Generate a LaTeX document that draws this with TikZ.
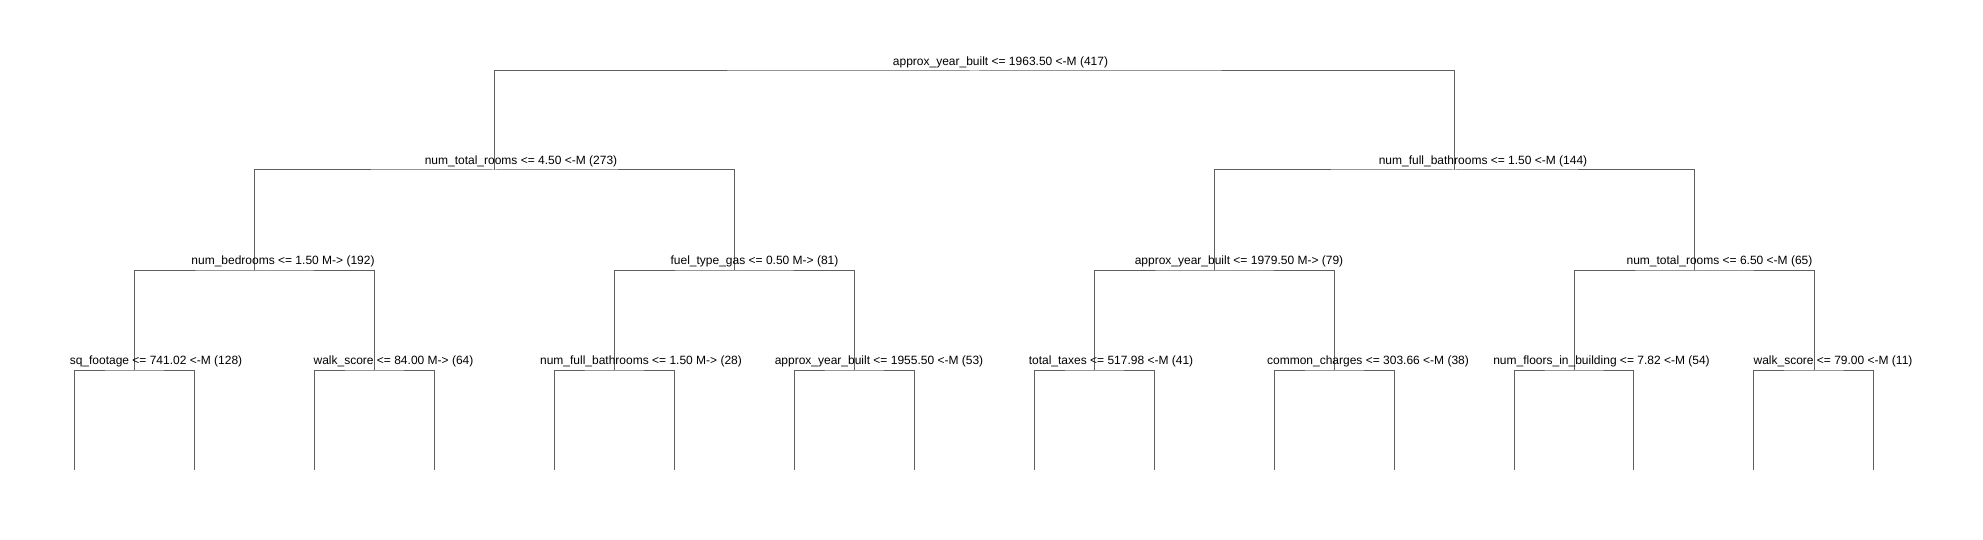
\documentclass[tikz,border=0pt]{standalone}
\usepackage{fontspec}
\setmainfont{Liberation Sans}
\definecolor{edgegray}{RGB}{95,95,95}
\begin{document}
\begin{tikzpicture}[x=1pt,y=-1pt,
  edge/.style={draw=edgegray,line width=1pt},
  lab/.style={anchor=base,inner sep=0pt,font=\fontsize{12}{14}\selectfont}]
\useasboundingbox[fill=white] (0,0) rectangle (1983,540);
% internal node coordinates (bar level)
\coordinate (r) at (974.4,71);
\coordinate (a) at (494.3,170);
\coordinate (b) at (1454.3,170);
\coordinate (aa) at (254.5,270);
\coordinate (ab) at (734.2,270);
\coordinate (ba) at (1214.4,270);
\coordinate (bb) at (1694.3,270);
\coordinate (aaa) at (134.6,370);
\coordinate (aab) at (374.4,370);
\coordinate (aba) at (614.3,370);
\coordinate (abb) at (854.1,370);
\coordinate (baa) at (1094.4,370);
\coordinate (bab) at (1334.4,370);
\coordinate (bba) at (1574.3,370);
\coordinate (bbb) at (1814.2,370);
% leaves
\foreach \i in {0,...,15} {\coordinate (l\i) at ({74.6+119.95*\i},470);}
% edges
\draw[edge] (a) |- (r) -| (b);
\draw[edge] (aa) |- (a) -| (ab);
\draw[edge] (ba) |- (b) -| (bb);
\draw[edge] (aaa) |- (aa) -| (aab);
\draw[edge] (aba) |- (ab) -| (abb);
\draw[edge] (baa) |- (ba) -| (bab);
\draw[edge] (bba) |- (bb) -| (bbb);
\draw[edge] (l0) |- (aaa) -| (l1);
\draw[edge] (l2) |- (aab) -| (l3);
\draw[edge] (l4) |- (aba) -| (l5);
\draw[edge] (l6) |- (abb) -| (l7);
\draw[edge] (l8) |- (baa) -| (l9);
\draw[edge] (l10) |- (bab) -| (l11);
\draw[edge] (l12) |- (bba) -| (l13);
\draw[edge] (l14) |- (bbb) -| (l15);
% labels
\node[lab] (tr) at (1000.5,65.5) {approx\_year\_built <= 1963.50 <-M (417)};
\node[lab] (ta) at (521,164.5) {num\_total\_rooms <= 4.50 <-M (273)};
\node[lab] (tb) at (1483,164.5) {num\_full\_bathrooms <= 1.50 <-M (144)};
\node[lab] (taa) at (283,264.5) {num\_bedrooms <= 1.50 M-> (192)};
\node[lab] (tab) at (754.5,264.5) {fuel\_type\_gas <= 0.50 M-> (81)};
\node[lab] (tba) at (1239,264.5) {approx\_year\_built <= 1979.50 M-> (79)};
\node[lab] (tbb) at (1719.5,264.5) {num\_total\_rooms <= 6.50 <-M (65)};
\node[lab] (taaa) at (156,364.5) {sq\_footage <= 741.02 <-M (128)};
\node[lab] (taab) at (393.5,364.5) {walk\_score <= 84.00 M-> (64)};
\node[lab] (taba) at (641,364.5) {num\_full\_bathrooms <= 1.50 M-> (28)};
\node[lab] (tabb) at (879,364.5) {approx\_year\_built <= 1955.50 <-M (53)};
\node[lab] (tbaa) at (1111,364.5) {total\_taxes <= 517.98 <-M (41)};
\node[lab] (tbab) at (1368,364.5) {common\_charges <= 303.66 <-M (38)};
\node[lab] (tbba) at (1601.5,364.5) {num\_floors\_in\_building <= 7.82 <-M (54)};
\node[lab] (tbbb) at (1833,364.5) {walk\_score <= 79.00 <-M (11)};
\end{tikzpicture}
\end{document}
